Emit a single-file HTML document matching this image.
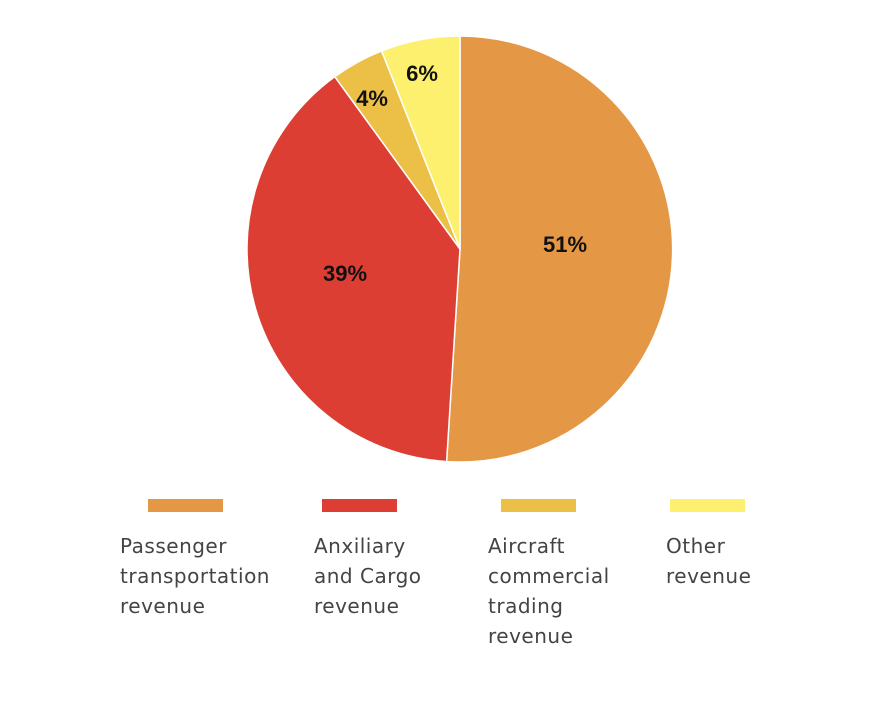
<!DOCTYPE html>
<html><head><style>
body{margin:0;background:#fff;width:880px;height:712px;overflow:hidden;font-family:"Liberation Sans",sans-serif}
.sw{position:absolute;top:499px;width:75px;height:13px}
.lt{position:absolute;top:531px;font-family:"DejaVu Sans",sans-serif;font-size:20px;line-height:30px;color:#444;letter-spacing:0.5px}
</style></head><body>
<svg width="880" height="712" style="position:absolute;left:0;top:0">
<path d="M460,249 L460,36 A213,213 0 1 1 446.6,461.6 Z" fill="#e49845" stroke="#fff" stroke-width="1.5"/>
<path d="M460,249 L446.6,461.6 A213,213 0 0 1 334.8,76.7 Z" fill="#dc3e33" stroke="#fff" stroke-width="1.5"/>
<path d="M460,249 L334.8,76.7 A213,213 0 0 1 381.6,50.9 Z" fill="#ecc047" stroke="#fff" stroke-width="1.5"/>
<path d="M460,249 L381.6,50.9 A213,213 0 0 1 460,36 Z" fill="#fdf06e" stroke="#fff" stroke-width="1.5"/>
<g font-family="Liberation Sans" font-weight="bold" font-size="22" text-anchor="middle" fill="#111">
<text x="565" y="252">51%</text>
<text x="345" y="281">39%</text>
<text x="372" y="106">4%</text>
<text x="422" y="81">6%</text>
</g>
</svg>
<div class="sw" style="left:148px;background:#e49845"></div>
<div class="sw" style="left:322px;background:#dc3e33"></div>
<div class="sw" style="left:501px;background:#ecc047"></div>
<div class="sw" style="left:670px;background:#fdf06e"></div>
<div class="lt" style="left:120px">Passenger<br>transportation<br>revenue</div>
<div class="lt" style="left:314px">Anxiliary<br>and Cargo<br>revenue</div>
<div class="lt" style="left:488px">Aircraft<br>commercial<br>trading<br>revenue</div>
<div class="lt" style="left:666px">Other<br>revenue</div>
</body></html>
